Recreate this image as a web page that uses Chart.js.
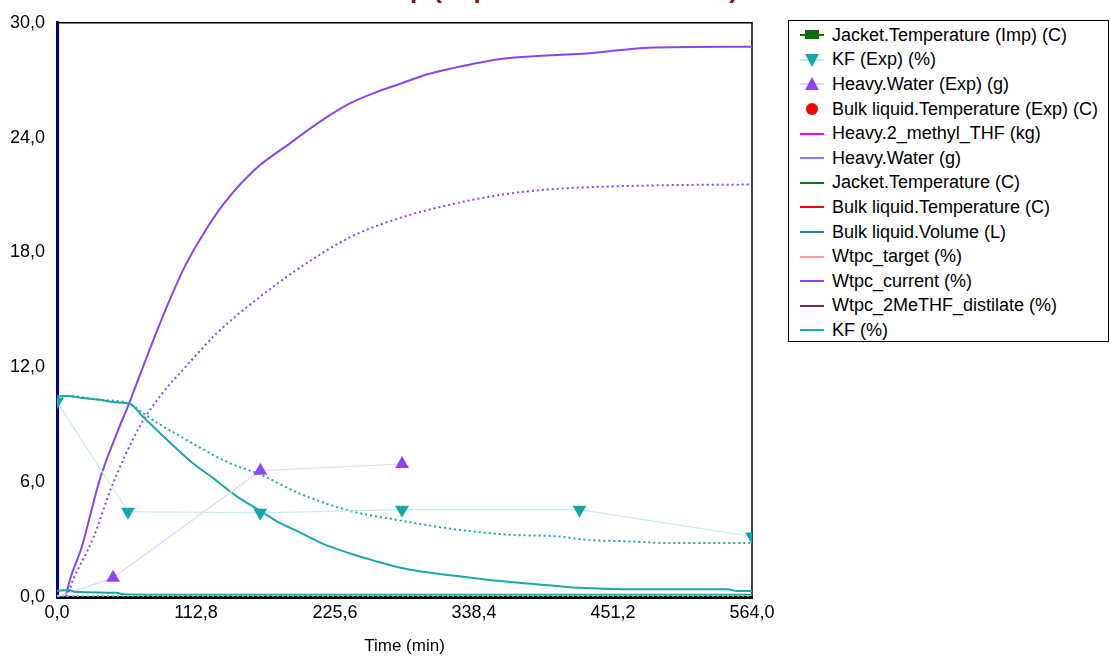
<!DOCTYPE html>
<html lang="en">
<head>
  <meta charset="UTF-8" />
  <title>Distillation Step</title>
  <script src="https://cdn.jsdelivr.net/npm/chart.js"></script>
  <style>
    body {
      margin: 0;
      background: #fff;
      font-family: "Liberation Sans", Arial, sans-serif;
    }
    #wrap {
      position: relative;
      width: 1110px;
      height: 658px;
      overflow: hidden;
    }
    #title {
      position: absolute;
      right: 372px;
      top: -26px;
      font-weight: bold;
      font-size: 26px;
      color: #8b1010;
      white-space: nowrap;
    }
    #plot {
      position: absolute;
      left: 0;
      top: 0;
    }
    #legend {
      position: absolute;
      left: 788px;
      top: 20px;
      width: 321px;
      height: 322px;
      border: 1px solid #000;
      box-sizing: border-box;
      padding-top: 2px;
    }
    .item {
      height: 24.6px;
      display: flex;
      align-items: center;
      font-size: 18px;
      color: #000;
      white-space: nowrap;
    }
    .sym {
      position: relative;
      width: 24px;
      height: 14px;
      margin-left: 11px;
      margin-right: 8px;
      flex: none;
    }
    .sym .ln {
      position: absolute;
      left: 0;
      right: 0;
      top: 6px;
      height: 2px;
    }
    .sym .mk {
      position: absolute;
    }
  </style>
</head>
<body>

<div id="wrap">
  <div id="title">Distillation Step (Exp vs Simulation Data)</div>
  <canvas id="plot" width="780" height="658"></canvas>
  <div id="legend"></div>
</div>

<script>
  // time axis ticks
  const xTicks = [0, 112.8, 225.6, 338.4, 451.2, 564];

  // simulated KF (%) - solid run
  const kfT = [0, 8, 20, 35, 48, 59, 70, 92, 110, 127, 145, 165, 180, 197, 215, 238, 257, 276, 300, 333, 368, 403, 424, 459, 500, 544, 552, 564];
  const kfV = [10.47, 10.5, 10.4, 10.3, 10.17, 10.1, 9.4, 8.05, 7.0, 6.2, 5.3, 4.5, 3.9, 3.38, 2.8, 2.27, 1.9, 1.57, 1.29, 1.03, 0.78, 0.59, 0.48, 0.41, 0.41, 0.41, 0.31, 0.31];

  // simulated KF (%) - dotted run
  const kf2T = [0, 8, 35, 59, 70, 84, 100, 116, 140, 165, 197, 238, 278, 319, 365, 408, 427, 467, 495, 564];
  const kf2V = [10.47, 10.5, 10.3, 10.1, 9.6, 9.0, 8.4, 7.8, 7.0, 6.4, 5.4, 4.5, 4.0, 3.57, 3.26, 3.16, 3.0, 2.9, 2.82, 2.82];

  // Wtpc_current (%) - solid run
  const wtT = [7, 10.5, 20, 35, 47, 59, 75, 90, 104, 120, 136, 160, 189, 215, 238, 260, 278, 300, 319, 359, 400, 430, 481, 564];
  const wtV = [0, 0.9, 2.6, 6.2, 8.3, 10.2, 12.9, 15.3, 17.3, 19.1, 20.6, 22.3, 23.7, 24.9, 25.8, 26.4, 26.8, 27.3, 27.6, 28.1, 28.3, 28.4, 28.7, 28.75];

  // Heavy.Water (g) - dotted run
  const hwT = [8, 13, 29.5, 44, 67, 85, 104, 130, 163, 197, 238, 278, 319, 359, 400, 481, 564];
  const hwV = [0, 0.88, 3.1, 5.7, 8.9, 10.6, 12.0, 13.8, 15.6, 17.2, 18.8, 19.8, 20.5, 21.0, 21.3, 21.5, 21.55];

  // Bulk liquid.Volume (L) near zero
  const volT = [0, 10, 14, 48, 54, 100, 564];
  const volV = [0.33, 0.36, 0.27, 0.22, 0.15, 0.12, 0.12];
  const vol2T = [0, 564];
  const vol2V = [0.07, 0.07];

  // experimental points
  const kfExpT = [0, 57.6, 165, 280, 424, 564];
  const kfExpV = [10.2, 4.46, 4.40, 4.56, 4.56, 3.16];
  const hwExpT = [0, 45.5, 165, 280];
  const hwExpV = [0, 1.0, 6.6, 6.95];

  // legend
  const legendNames = [
    "Jacket.Temperature (Imp) (C)", "KF (Exp) (%)", "Heavy.Water (Exp) (g)",
    "Bulk liquid.Temperature (Exp) (C)", "Heavy.2_methyl_THF (kg)", "Heavy.Water (g)",
    "Jacket.Temperature (C)", "Bulk liquid.Temperature (C)", "Bulk liquid.Volume (L)",
    "Wtpc_target (%)", "Wtpc_current (%)", "Wtpc_2MeTHF_distilate (%)", "KF (%)"
  ];
  const legendLine = ["#0a6e0a", "#c4ecec", "#e2d6ff", null, "#ff00ff", "#9a6cff",
    "#008000", "#ff0000", "#2a8a8a", "#ff9a9a", "#8a44f6", "#7a2a55", "#20b0b0"];
  const legendMark = ["square", "down", "up", "circle", null, null, null, null, null, null, null, null, null];
  const markColor = ["#0a6e0a", "#10a8a8", "#8f44fa", "#ff0000"];

  const pts = (t, v) => t.map((x, i) => ({ x: x, y: v[i] }));

  function buildLegend() {
    const box = document.getElementById("legend");
    legendNames.forEach((name, i) => {
      const row = document.createElement("div");
      row.className = "item";
      const sym = document.createElement("span");
      sym.className = "sym";
      if (legendLine[i]) {
        const ln = document.createElement("span");
        ln.className = "ln";
        ln.style.background = legendLine[i];
        sym.appendChild(ln);
      }
      const mk = legendMark[i];
      if (mk) {
        const m = document.createElement("span");
        m.className = "mk";
        const c = markColor[i];
        if (mk === "square") {
          m.style.cssText = "left:5px;top:2px;width:14px;height:9px;background:" + c;
        } else if (mk === "circle") {
          m.style.cssText = "left:6px;top:1px;width:12px;height:12px;border-radius:50%;background:" + c;
        } else if (mk === "down") {
          m.style.cssText = "left:5px;top:1px;width:0;height:0;border-left:7px solid transparent;border-right:7px solid transparent;border-top:13px solid " + c;
        } else {
          m.style.cssText = "left:5px;top:0px;width:0;height:0;border-left:7px solid transparent;border-right:7px solid transparent;border-bottom:13px solid " + c;
        }
        sym.appendChild(m);
      }
      row.appendChild(sym);
      const txt = document.createElement("span");
      txt.textContent = name;
      row.appendChild(txt);
      box.appendChild(row);
    });
  }
  buildLegend();

  const fmt = v => Number(v).toFixed(1).replace(".", ",");

  const framePlugin = {
    id: "frame",
    beforeDatasetsDraw(chart) {
      const { ctx, chartArea: a } = chart;
      ctx.save();
      ctx.strokeStyle = "#000";
      ctx.lineWidth = 1.5;
      ctx.beginPath();
      ctx.moveTo(a.left, a.top);
      ctx.lineTo(a.right, a.top);
      ctx.lineTo(a.right, a.bottom);
      ctx.stroke();
      ctx.restore();
    }
  };

  const line = (label, data, color, dashed) => ({
    label: label,
    data: data,
    borderColor: color,
    borderWidth: 2,
    borderDash: dashed ? [2, 3] : [],
    pointRadius: 0,
    cubicInterpolationMode: "monotone",
    fill: false
  });

  new Chart(document.getElementById("plot").getContext("2d"), {
    type: "line",
    data: {
      datasets: [
        line("Bulk liquid.Volume (L) 2", pts(vol2T, vol2V), "#7fd0d0", true),
        line("Bulk liquid.Volume (L)", pts(volT, volV), "#1aa3a3", false),
        {
          label: "KF (Exp) (%)",
          data: pts(kfExpT, kfExpV),
          borderColor: "#c4ecec",
          borderWidth: 1.2,
          pointStyle: "triangle",
          rotation: 180,
          pointRadius: 8,
          pointBackgroundColor: "#10a8a8",
          pointBorderColor: "#10a8a8",
          pointBorderWidth: 0
        },
        {
          label: "Heavy.Water (Exp) (g)",
          data: pts(hwExpT, hwExpV),
          borderColor: "#e2d6ff",
          borderWidth: 1.2,
          pointStyle: "triangle",
          pointRadius: [0, 8, 8, 8],
          pointBackgroundColor: "#8f44fa",
          pointBorderColor: "#8f44fa",
          pointBorderWidth: 0
        },
        line("KF (%) run 2", pts(kf2T, kf2V), "#1aa8a8", true),
        line("KF (%)", pts(kfT, kfV), "#1aa8a8", false),
        line("Heavy.Water (g)", pts(hwT, hwV), "#8a44f6", true),
        line("Wtpc_current (%)", pts(wtT, wtV), "#8a44f6", false)
      ]
    },
    options: {
      responsive: false,
      animation: false,
      devicePixelRatio: 1,
      layout: { padding: { top: 18, right: 28, left: 0, bottom: 0 } },
      plugins: {
        legend: { display: false },
        tooltip: { enabled: false }
      },
      scales: {
        x: {
          type: "linear",
          min: 0,
          max: 564,
          afterBuildTicks: s => { s.ticks = xTicks.map(v => ({ value: v })); },
          afterFit: s => { s.height = 61; },
          ticks: {
            callback: fmt,
            color: "#000",
            font: { family: "Liberation Sans", size: 18 },
            padding: 5,
            maxRotation: 0,
            autoSkip: false
          },
          grid: { display: false, drawTicks: false },
          border: { display: true, color: "#000", width: 3, dash: [3, 5] },
          title: {
            display: true,
            text: "Time (min)",
            color: "#000",
            font: { family: "Liberation Sans", size: 17 },
            padding: { top: 0, bottom: 1 }
          }
        },
        y: {
          min: 0,
          max: 30,
          afterFit: s => { s.width = 57; },
          ticks: {
            stepSize: 6,
            callback: fmt,
            color: "#000",
            font: { family: "Liberation Sans", size: 18 },
            padding: 12
          },
          grid: {
            drawTicks: false,
            lineWidth: 3,
            color: c => (c.tick && c.tick.value === 0 ? "#000080" : "rgba(0,0,0,0)")
          },
          border: { display: true, color: "#000080", width: 3 }
        }
      }
    },
    plugins: [framePlugin]
  });
</script>

</body>
</html>
